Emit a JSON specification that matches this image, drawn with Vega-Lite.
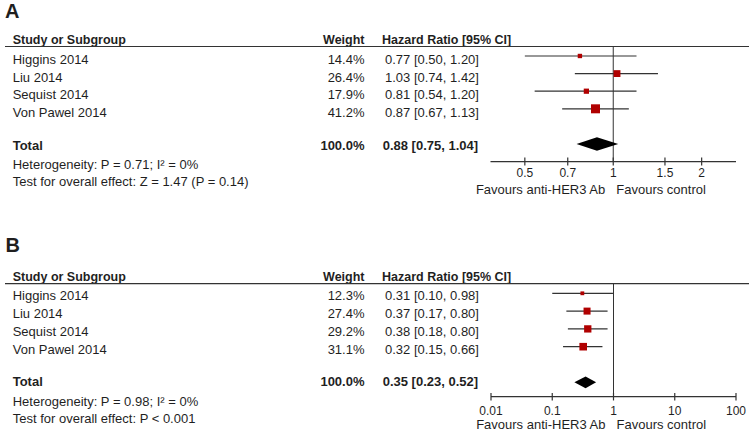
{
"$schema":"https://vega.github.io/schema/vega-lite/v6.json",
"padding":0,
"background":"white",
"spacing":0,
"config":{"view":{"stroke":null},"text":{"font":"Liberation Sans","fontSize":13,"color":"#1f1f1f","baseline":"middle"},"concat":{"spacing":0}},
"datasets":{
"headA":[{"panel":"A","c1":"Study or Subgroup","c2":"Weight","c3":"Hazard Ratio [95% CI]","f1":"Favours anti-HER3 Ab","f2":"Favours control"}],
"studiesA":[
{"study":"Higgins 2014","weight":14.4,"wtxt":"14.4%","hr":0.77,"lo":0.50,"hi":1.20,"hrtxt":"0.77 [0.50, 1.20]","row":1},
{"study":"Liu 2014","weight":26.4,"wtxt":"26.4%","hr":1.03,"lo":0.74,"hi":1.42,"hrtxt":"1.03 [0.74, 1.42]","row":2},
{"study":"Sequist 2014","weight":17.9,"wtxt":"17.9%","hr":0.81,"lo":0.54,"hi":1.20,"hrtxt":"0.81 [0.54, 1.20]","row":3},
{"study":"Von Pawel 2014","weight":41.2,"wtxt":"41.2%","hr":0.87,"lo":0.67,"hi":1.13,"hrtxt":"0.87 [0.67, 1.13]","row":4}],
"totalA":[{"label":"Total","wtxt":"100.0%","hrtxt":"0.88 [0.75, 1.04]","row":6}],
"notesA":[{"text":"Heterogeneity: P = 0.71; I² = 0%","row":7},{"text":"Test for overall effect: Z = 1.47 (P = 0.14)","row":8}],
"diamondA":[{"x":0.75,"top":6,"bottom":6},{"x":0.88,"top":5.62,"bottom":6.38},{"x":1.04,"top":6,"bottom":6}],
"ticksA":[{"v":0.5,"label":"0.5"},{"v":0.7,"label":"0.7"},{"v":1,"label":"1"},{"v":1.5,"label":"1.5"},{"v":2,"label":"2"}],
"headB":[{"panel":"B","c1":"Study or Subgroup","c2":"Weight","c3":"Hazard Ratio [95% CI]","f1":"Favours anti-HER3 Ab","f2":"Favours control"}],
"studiesB":[
{"study":"Higgins 2014","weight":12.3,"wtxt":"12.3%","hr":0.31,"lo":0.10,"hi":0.98,"hrtxt":"0.31 [0.10, 0.98]","row":1},
{"study":"Liu 2014","weight":27.4,"wtxt":"27.4%","hr":0.37,"lo":0.17,"hi":0.80,"hrtxt":"0.37 [0.17, 0.80]","row":2},
{"study":"Sequist 2014","weight":29.2,"wtxt":"29.2%","hr":0.38,"lo":0.18,"hi":0.80,"hrtxt":"0.38 [0.18, 0.80]","row":3},
{"study":"Von Pawel 2014","weight":31.1,"wtxt":"31.1%","hr":0.32,"lo":0.15,"hi":0.66,"hrtxt":"0.32 [0.15, 0.66]","row":4}],
"totalB":[{"label":"Total","wtxt":"100.0%","hrtxt":"0.35 [0.23, 0.52]","row":6}],
"notesB":[{"text":"Heterogeneity: P = 0.98; I² = 0%","row":7},{"text":"Test for overall effect: P < 0.001","row":8}],
"diamondB":[{"x":0.23,"top":6,"bottom":6},{"x":0.35,"top":5.67,"bottom":6.33},{"x":0.52,"top":6,"bottom":6}],
"ticksB":[{"v":0.01,"label":"0.01"},{"v":0.1,"label":"0.1"},{"v":1,"label":"1"},{"v":10,"label":"10"},{"v":100,"label":"100"}]
},
"vconcat":[
{"width":749,"height":200,
"resolve":{"scale":{"x":"independent"}},
"layer":[
{"data":{"name":"headA"},"mark":{"type":"text","fontSize":20,"fontWeight":"bold","align":"left"},
 "encoding":{"x":{"datum":5,"type":"quantitative","scale":{"domain":[0,749],"nice":false,"zero":false},"axis":null},
 "y":{"datum":-1.515,"type":"quantitative","scale":{"domain":[-2.18,9.18],"reverse":true,"nice":false,"zero":false},"axis":null},
 "text":{"field":"panel"}}},
{"data":{"name":"headA"},"mark":{"type":"text","fontSize":12.5,"fontWeight":"bold","align":"left","letterSpacing":-0.4},
 "encoding":{"x":{"datum":12.7,"type":"quantitative","scale":{"domain":[0,749],"nice":false,"zero":false},"axis":null},
 "y":{"datum":0.1,"type":"quantitative","scale":{"domain":[-2.18,9.18],"reverse":true,"nice":false,"zero":false},"axis":null},
 "text":{"field":"c1"}}},
{"data":{"name":"headA"},"mark":{"type":"text","fontSize":12.5,"fontWeight":"bold","align":"right"},
 "encoding":{"x":{"datum":364.5,"type":"quantitative","scale":{"domain":[0,749],"nice":false,"zero":false},"axis":null},
 "y":{"datum":0.1,"type":"quantitative","scale":{"domain":[-2.18,9.18],"reverse":true,"nice":false,"zero":false},"axis":null},
 "text":{"field":"c2"}}},
{"data":{"name":"headA"},"mark":{"type":"text","fontSize":12.5,"fontWeight":"bold","align":"left","letterSpacing":-0.2},
 "encoding":{"x":{"datum":382,"type":"quantitative","scale":{"domain":[0,749],"nice":false,"zero":false},"axis":null},
 "y":{"datum":0.1,"type":"quantitative","scale":{"domain":[-2.18,9.18],"reverse":true,"nice":false,"zero":false},"axis":null},
 "text":{"field":"c3"}}},
{"data":{"name":"headA"},"mark":{"type":"rule","color":"#333333","strokeWidth":1.2},
 "encoding":{"x":{"datum":5,"type":"quantitative","scale":{"domain":[0,749],"nice":false,"zero":false},"axis":null},"x2":{"datum":749},
 "y":{"datum":0.46,"type":"quantitative","scale":{"domain":[-2.18,9.18],"reverse":true,"nice":false,"zero":false},"axis":null}}},
{"data":{"name":"studiesA"},"mark":{"type":"text","align":"left","dy":4},
 "encoding":{"x":{"datum":12.7,"type":"quantitative","scale":{"domain":[0,749],"nice":false,"zero":false},"axis":null},
 "y":{"field":"row","type":"quantitative","scale":{"domain":[-2.18,9.18],"reverse":true,"nice":false,"zero":false},"axis":null},
 "text":{"field":"study"}}},
{"data":{"name":"studiesA"},"mark":{"type":"text","align":"right","dy":4},
 "encoding":{"x":{"datum":364.5,"type":"quantitative","scale":{"domain":[0,749],"nice":false,"zero":false},"axis":null},
 "y":{"field":"row","type":"quantitative","scale":{"domain":[-2.18,9.18],"reverse":true,"nice":false,"zero":false},"axis":null},
 "text":{"field":"wtxt"}}},
{"data":{"name":"studiesA"},"mark":{"type":"text","align":"left","dy":4},
 "encoding":{"x":{"datum":385,"type":"quantitative","scale":{"domain":[0,749],"nice":false,"zero":false},"axis":null},
 "y":{"field":"row","type":"quantitative","scale":{"domain":[-2.18,9.18],"reverse":true,"nice":false,"zero":false},"axis":null},
 "text":{"field":"hrtxt"}}},
{"data":{"name":"totalA"},"mark":{"type":"text","align":"left","dy":1.5,"fontWeight":"bold"},
 "encoding":{"x":{"datum":12.7,"type":"quantitative","scale":{"domain":[0,749],"nice":false,"zero":false},"axis":null},
 "y":{"field":"row","type":"quantitative","scale":{"domain":[-2.18,9.18],"reverse":true,"nice":false,"zero":false},"axis":null},
 "text":{"field":"label"}}},
{"data":{"name":"totalA"},"mark":{"type":"text","align":"right","dy":1.5,"fontWeight":"bold"},
 "encoding":{"x":{"datum":364.5,"type":"quantitative","scale":{"domain":[0,749],"nice":false,"zero":false},"axis":null},
 "y":{"field":"row","type":"quantitative","scale":{"domain":[-2.18,9.18],"reverse":true,"nice":false,"zero":false},"axis":null},
 "text":{"field":"wtxt"}}},
{"data":{"name":"totalA"},"mark":{"type":"text","align":"left","dy":1.5,"fontWeight":"bold"},
 "encoding":{"x":{"datum":382.7,"type":"quantitative","scale":{"domain":[0,749],"nice":false,"zero":false},"axis":null},
 "y":{"field":"row","type":"quantitative","scale":{"domain":[-2.18,9.18],"reverse":true,"nice":false,"zero":false},"axis":null},
 "text":{"field":"hrtxt"}}},
{"data":{"name":"notesA"},"mark":{"type":"text","align":"left","dy":3},
 "encoding":{"x":{"datum":12.7,"type":"quantitative","scale":{"domain":[0,749],"nice":false,"zero":false},"axis":null},
 "y":{"field":"row","type":"quantitative","scale":{"domain":[-2.18,9.18],"reverse":true,"nice":false,"zero":false},"axis":null},
 "text":{"field":"text"}}},
{"data":{"name":"headA"},"mark":{"type":"rule","color":"#333333","strokeWidth":1},
 "encoding":{"x":{"datum":1,"type":"quantitative","scale":{"type":"log","domain":[0.382,2.618],"range":[490.5,736],"nice":false},"axis":null},
 "y":{"datum":0.46,"type":"quantitative","scale":{"domain":[-2.18,9.18],"reverse":true,"nice":false,"zero":false},"axis":null},"y2":{"datum":7}}},
{"data":{"name":"studiesA"},"mark":{"type":"rule","color":"#333333","strokeWidth":1.2},
 "encoding":{"x":{"field":"lo","type":"quantitative","scale":{"type":"log","domain":[0.382,2.618],"range":[490.5,736],"nice":false},"axis":null},"x2":{"field":"hi"},
 "y":{"field":"row","type":"quantitative","scale":{"domain":[-2.18,9.18],"reverse":true,"nice":false,"zero":false},"axis":null}}},
{"data":{"name":"studiesA"},"mark":{"type":"point","shape":"square","filled":true,"color":"#b00000","opacity":1},
 "encoding":{"x":{"field":"hr","type":"quantitative","scale":{"type":"log","domain":[0.382,2.618],"range":[490.5,736],"nice":false},"axis":null},
 "y":{"field":"row","type":"quantitative","scale":{"domain":[-2.18,9.18],"reverse":true,"nice":false,"zero":false},"axis":null},
 "size":{"field":"weight","type":"quantitative","scale":{"type":"linear","domain":[13,41.2],"range":[16,81],"zero":false},"legend":null}}},
{"data":{"name":"diamondA"},"mark":{"type":"area","color":"#000000","opacity":1},
 "encoding":{"x":{"field":"x","type":"quantitative","scale":{"type":"log","domain":[0.382,2.618],"range":[490.5,736],"nice":false},"axis":null},
 "y":{"field":"top","type":"quantitative","scale":{"domain":[-2.18,9.18],"reverse":true,"nice":false,"zero":false},"axis":null},"y2":{"field":"bottom"}}},
{"data":{"name":"headA"},"mark":{"type":"rule","color":"#333333","strokeWidth":1.2},
 "encoding":{"x":{"datum":0.382,"type":"quantitative","scale":{"type":"log","domain":[0.382,2.618],"range":[490.5,736],"nice":false},"axis":null},"x2":{"datum":2.618},
 "y":{"datum":7,"type":"quantitative","scale":{"domain":[-2.18,9.18],"reverse":true,"nice":false,"zero":false},"axis":null}}},
{"data":{"name":"ticksA"},"mark":{"type":"rule","color":"#333333","strokeWidth":1.2},
 "encoding":{"x":{"field":"v","type":"quantitative","scale":{"type":"log","domain":[0.382,2.618],"range":[490.5,736],"nice":false},"axis":null},
 "y":{"datum":6.77,"type":"quantitative","scale":{"domain":[-2.18,9.18],"reverse":true,"nice":false,"zero":false},"axis":null},"y2":{"datum":7.22}}},
{"data":{"name":"ticksA"},"mark":{"type":"text","fontSize":12,"align":"center"},
 "encoding":{"x":{"field":"v","type":"quantitative","scale":{"type":"log","domain":[0.382,2.618],"range":[490.5,736],"nice":false},"axis":null},
 "y":{"datum":7.66,"type":"quantitative","scale":{"domain":[-2.18,9.18],"reverse":true,"nice":false,"zero":false},"axis":null},
 "text":{"field":"label"}}},
{"data":{"name":"headA"},"mark":{"type":"text","align":"right","dx":-8},
 "encoding":{"x":{"datum":1,"type":"quantitative","scale":{"type":"log","domain":[0.382,2.618],"range":[490.5,736],"nice":false},"axis":null},
 "y":{"datum":8.61,"type":"quantitative","scale":{"domain":[-2.18,9.18],"reverse":true,"nice":false,"zero":false},"axis":null},
 "text":{"field":"f1"}}},
{"data":{"name":"headA"},"mark":{"type":"text","align":"left","dx":3},
 "encoding":{"x":{"datum":1,"type":"quantitative","scale":{"type":"log","domain":[0.382,2.618],"range":[490.5,736],"nice":false},"axis":null},
 "y":{"datum":8.61,"type":"quantitative","scale":{"domain":[-2.18,9.18],"reverse":true,"nice":false,"zero":false},"axis":null},
 "text":{"field":"f2"}}}
]},
{"width":749,"height":231,
"resolve":{"scale":{"x":"independent"}},
"layer":[
{"data":{"name":"headB"},"mark":{"type":"text","fontSize":20,"fontWeight":"bold","align":"left"},
 "encoding":{"x":{"datum":5.5,"type":"quantitative","scale":{"domain":[0,749],"nice":false,"zero":false},"axis":null},
 "y":{"datum":-1.67,"type":"quantitative","scale":{"domain":[-4.2416,8.736],"reverse":true,"nice":false,"zero":false},"axis":null},
 "text":{"field":"panel"}}},
{"data":{"name":"headB"},"mark":{"type":"text","fontSize":12.5,"fontWeight":"bold","align":"left","letterSpacing":-0.4},
 "encoding":{"x":{"datum":12.7,"type":"quantitative","scale":{"domain":[0,749],"nice":false,"zero":false},"axis":null},
 "y":{"datum":0.1,"type":"quantitative","scale":{"domain":[-4.2416,8.736],"reverse":true,"nice":false,"zero":false},"axis":null},
 "text":{"field":"c1"}}},
{"data":{"name":"headB"},"mark":{"type":"text","fontSize":12.5,"fontWeight":"bold","align":"right"},
 "encoding":{"x":{"datum":364.5,"type":"quantitative","scale":{"domain":[0,749],"nice":false,"zero":false},"axis":null},
 "y":{"datum":0.1,"type":"quantitative","scale":{"domain":[-4.2416,8.736],"reverse":true,"nice":false,"zero":false},"axis":null},
 "text":{"field":"c2"}}},
{"data":{"name":"headB"},"mark":{"type":"text","fontSize":12.5,"fontWeight":"bold","align":"left","letterSpacing":-0.2},
 "encoding":{"x":{"datum":382,"type":"quantitative","scale":{"domain":[0,749],"nice":false,"zero":false},"axis":null},
 "y":{"datum":0.1,"type":"quantitative","scale":{"domain":[-4.2416,8.736],"reverse":true,"nice":false,"zero":false},"axis":null},
 "text":{"field":"c3"}}},
{"data":{"name":"headB"},"mark":{"type":"rule","color":"#333333","strokeWidth":1.2},
 "encoding":{"x":{"datum":5,"type":"quantitative","scale":{"domain":[0,749],"nice":false,"zero":false},"axis":null},"x2":{"datum":749},
 "y":{"datum":0.46,"type":"quantitative","scale":{"domain":[-4.2416,8.736],"reverse":true,"nice":false,"zero":false},"axis":null}}},
{"data":{"name":"studiesB"},"mark":{"type":"text","align":"left","dy":3},
 "encoding":{"x":{"datum":12.7,"type":"quantitative","scale":{"domain":[0,749],"nice":false,"zero":false},"axis":null},
 "y":{"field":"row","type":"quantitative","scale":{"domain":[-4.2416,8.736],"reverse":true,"nice":false,"zero":false},"axis":null},
 "text":{"field":"study"}}},
{"data":{"name":"studiesB"},"mark":{"type":"text","align":"right","dy":3},
 "encoding":{"x":{"datum":364.5,"type":"quantitative","scale":{"domain":[0,749],"nice":false,"zero":false},"axis":null},
 "y":{"field":"row","type":"quantitative","scale":{"domain":[-4.2416,8.736],"reverse":true,"nice":false,"zero":false},"axis":null},
 "text":{"field":"wtxt"}}},
{"data":{"name":"studiesB"},"mark":{"type":"text","align":"left","dy":3},
 "encoding":{"x":{"datum":385,"type":"quantitative","scale":{"domain":[0,749],"nice":false,"zero":false},"axis":null},
 "y":{"field":"row","type":"quantitative","scale":{"domain":[-4.2416,8.736],"reverse":true,"nice":false,"zero":false},"axis":null},
 "text":{"field":"hrtxt"}}},
{"data":{"name":"totalB"},"mark":{"type":"text","align":"left","dy":0,"fontWeight":"bold"},
 "encoding":{"x":{"datum":12.7,"type":"quantitative","scale":{"domain":[0,749],"nice":false,"zero":false},"axis":null},
 "y":{"field":"row","type":"quantitative","scale":{"domain":[-4.2416,8.736],"reverse":true,"nice":false,"zero":false},"axis":null},
 "text":{"field":"label"}}},
{"data":{"name":"totalB"},"mark":{"type":"text","align":"right","dy":0,"fontWeight":"bold"},
 "encoding":{"x":{"datum":364.5,"type":"quantitative","scale":{"domain":[0,749],"nice":false,"zero":false},"axis":null},
 "y":{"field":"row","type":"quantitative","scale":{"domain":[-4.2416,8.736],"reverse":true,"nice":false,"zero":false},"axis":null},
 "text":{"field":"wtxt"}}},
{"data":{"name":"totalB"},"mark":{"type":"text","align":"left","dy":0,"fontWeight":"bold"},
 "encoding":{"x":{"datum":382.7,"type":"quantitative","scale":{"domain":[0,749],"nice":false,"zero":false},"axis":null},
 "y":{"field":"row","type":"quantitative","scale":{"domain":[-4.2416,8.736],"reverse":true,"nice":false,"zero":false},"axis":null},
 "text":{"field":"hrtxt"}}},
{"data":{"name":"notesB"},"mark":{"type":"text","align":"left","dy":1.5},
 "encoding":{"x":{"datum":12.7,"type":"quantitative","scale":{"domain":[0,749],"nice":false,"zero":false},"axis":null},
 "y":{"field":"row","type":"quantitative","scale":{"domain":[-4.2416,8.736],"reverse":true,"nice":false,"zero":false},"axis":null},
 "text":{"field":"text"}}},
{"data":{"name":"headB"},"mark":{"type":"rule","color":"#333333","strokeWidth":1},
 "encoding":{"x":{"datum":1,"type":"quantitative","scale":{"type":"log","domain":[0.01,100],"range":[491,736],"nice":false},"axis":null},
 "y":{"datum":0.46,"type":"quantitative","scale":{"domain":[-4.2416,8.736],"reverse":true,"nice":false,"zero":false},"axis":null},"y2":{"datum":6.81}}},
{"data":{"name":"studiesB"},"mark":{"type":"rule","color":"#333333","strokeWidth":1.2},
 "encoding":{"x":{"field":"lo","type":"quantitative","scale":{"type":"log","domain":[0.01,100],"range":[491,736],"nice":false},"axis":null},"x2":{"field":"hi"},
 "y":{"field":"row","type":"quantitative","scale":{"domain":[-4.2416,8.736],"reverse":true,"nice":false,"zero":false},"axis":null}}},
{"data":{"name":"studiesB"},"mark":{"type":"point","shape":"square","filled":true,"color":"#b00000","opacity":1},
 "encoding":{"x":{"field":"hr","type":"quantitative","scale":{"type":"log","domain":[0.01,100],"range":[491,736],"nice":false},"axis":null},
 "y":{"field":"row","type":"quantitative","scale":{"domain":[-4.2416,8.736],"reverse":true,"nice":false,"zero":false},"axis":null},
 "size":{"field":"weight","type":"quantitative","scale":{"type":"linear","domain":[13,41.2],"range":[16,81],"zero":false},"legend":null}}},
{"data":{"name":"diamondB"},"mark":{"type":"area","color":"#000000","opacity":1},
 "encoding":{"x":{"field":"x","type":"quantitative","scale":{"type":"log","domain":[0.01,100],"range":[491,736],"nice":false},"axis":null},
 "y":{"field":"top","type":"quantitative","scale":{"domain":[-4.2416,8.736],"reverse":true,"nice":false,"zero":false},"axis":null},"y2":{"field":"bottom"}}},
{"data":{"name":"headB"},"mark":{"type":"rule","color":"#333333","strokeWidth":1.2},
 "encoding":{"x":{"datum":0.01,"type":"quantitative","scale":{"type":"log","domain":[0.01,100],"range":[491,736],"nice":false},"axis":null},"x2":{"datum":100},
 "y":{"datum":6.81,"type":"quantitative","scale":{"domain":[-4.2416,8.736],"reverse":true,"nice":false,"zero":false},"axis":null}}},
{"data":{"name":"ticksB"},"mark":{"type":"rule","color":"#333333","strokeWidth":1.2},
 "encoding":{"x":{"field":"v","type":"quantitative","scale":{"type":"log","domain":[0.01,100],"range":[491,736],"nice":false},"axis":null},
 "y":{"datum":6.6,"type":"quantitative","scale":{"domain":[-4.2416,8.736],"reverse":true,"nice":false,"zero":false},"axis":null},"y2":{"datum":7.02}}},
{"data":{"name":"ticksB"},"mark":{"type":"text","fontSize":12,"align":"center"},
 "encoding":{"x":{"field":"v","type":"quantitative","scale":{"type":"log","domain":[0.01,100],"range":[491,736],"nice":false},"axis":null},
 "y":{"datum":7.64,"type":"quantitative","scale":{"domain":[-4.2416,8.736],"reverse":true,"nice":false,"zero":false},"axis":null},
 "text":{"field":"label"}}},
{"data":{"name":"headB"},"mark":{"type":"text","align":"right","dx":-8},
 "encoding":{"x":{"datum":1,"type":"quantitative","scale":{"type":"log","domain":[0.01,100],"range":[491,736],"nice":false},"axis":null},
 "y":{"datum":8.4,"type":"quantitative","scale":{"domain":[-4.2416,8.736],"reverse":true,"nice":false,"zero":false},"axis":null},
 "text":{"field":"f1"}}},
{"data":{"name":"headB"},"mark":{"type":"text","align":"left","dx":3},
 "encoding":{"x":{"datum":1,"type":"quantitative","scale":{"type":"log","domain":[0.01,100],"range":[491,736],"nice":false},"axis":null},
 "y":{"datum":8.4,"type":"quantitative","scale":{"domain":[-4.2416,8.736],"reverse":true,"nice":false,"zero":false},"axis":null},
 "text":{"field":"f2"}}}
]}
]
}
